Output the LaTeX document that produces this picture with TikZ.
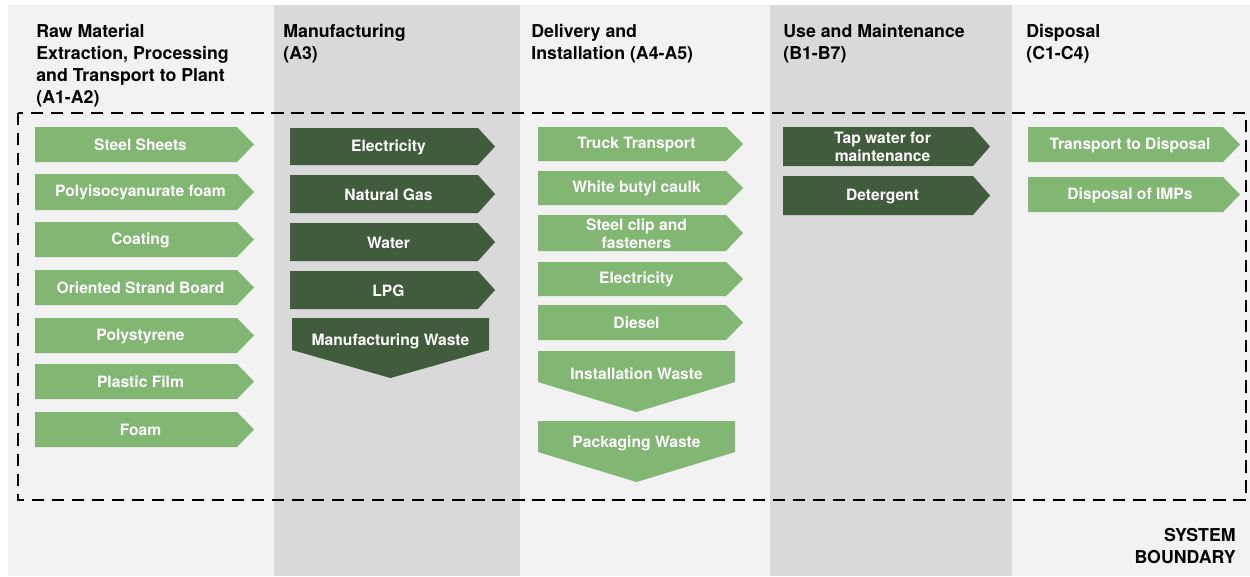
\documentclass[tikz,border=0pt]{standalone}
\usepackage{fontspec}
\setmainfont{TeX Gyre Heros}
\definecolor{lightbg}{HTML}{F2F2F2}
\definecolor{graybg}{HTML}{D9D9D9}
\definecolor{lgreen}{HTML}{82B673}
\definecolor{dgreen}{HTML}{405C3C}
\newcommand\rarr[7]{%
  \fill[#6] (#2,#3) -- ({#4-17},#3) -- (#4,{(#3+#5)/2}) -- ({#4-17},#5) -- (#2,#5) -- cycle;
  \node[lbl] (#1) at ({(#2+#4)/2-4},{(#3+#5)/2+0.5}) {#7};}
\newcommand\darr[8]{%
  \fill[#7] (#2,#3) -- (#4,#3) -- (#4,#5) -- ({(#2+#4)/2},#6) -- (#2,#5) -- cycle;
  \node[lbl] (#1) at ({(#2+#4)/2},{(#3+#5)/2+7}) {#8};}
\begin{document}
\begin{tikzpicture}[x=0.02cm,y=-0.02cm,
  lbl/.style={text=white,font=\bfseries\fontsize{8.9}{10.2}\selectfont,align=center,inner sep=0pt},
  hdr/.style={text=black,font=\bfseries\fontsize{10.1}{12.5}\selectfont,align=left,inner sep=0pt,anchor=north west},
  boundary/.style={line width=1.6pt,dash pattern=on 7pt off 4.4pt}]
\useasboundingbox (0,0) rectangle (1250,576);
\fill[white] (0,0) rectangle (1250,576);
\fill[lightbg] (8,5) rectangle (1250,576);
\fill[graybg] (274,5) rectangle (520,576);
\fill[graybg] (770,5) rectangle (1012,576);
% headers
\node[hdr] (h1) at (36,24) {Raw Material\\Extraction, Processing\\and Transport to Plant\\(A1-A2)};
\node[hdr] (h2) at (283,24) {Manufacturing\\(A3)};
\node[hdr] (h3) at (531,24) {Delivery and\\Installation (A4-A5)};
\node[hdr] (h4) at (783,24) {Use and Maintenance\\(B1-B7)};
\node[hdr] (h5) at (1026,24) {Disposal\\(C1-C4)};
% boundary
\draw[boundary] (18,113) rectangle (1246,500);
\node[text=black,font=\bfseries\fontsize{10.1}{12.5}\selectfont,align=right,inner sep=0pt,anchor=east] (sb) at (1236,546) {SYSTEM\\BOUNDARY};
% column 1
\rarr{a1}{35}{127}{254}{162}{lgreen}{Steel Sheets}
\rarr{a2}{35}{174}{254}{210}{lgreen}{Polyisocyanurate foam}
\rarr{a3}{35}{222}{254}{257}{lgreen}{Coating}
\rarr{a4}{35}{270}{254}{305}{lgreen}{Oriented Strand Board}
\rarr{a5}{35}{318}{254}{353}{lgreen}{Polystyrene}
\rarr{a6}{35}{364}{254}{399}{lgreen}{Plastic Film}
\rarr{a7}{35}{412}{254}{447}{lgreen}{Foam}
% column 2
\rarr{b1}{290}{128}{495}{165}{dgreen}{Electricity}
\rarr{b2}{290}{175}{495}{213}{dgreen}{Natural Gas}
\rarr{b3}{290}{223}{495}{261}{dgreen}{Water}
\rarr{b4}{290}{271}{495}{309}{dgreen}{LPG}
\darr{b5}{292}{318}{489}{350}{378}{dgreen}{Manufacturing Waste}
% column 3
\rarr{c1}{538}{127}{743}{161}{lgreen}{Truck Transport}
\rarr{c2}{538}{171}{743}{205}{lgreen}{White butyl caulk}
\rarr{c3}{538}{215}{743}{251}{lgreen}{Steel clip and\\fasteners}
\rarr{c4}{538}{262}{743}{296}{lgreen}{Electricity}
\rarr{c5}{538}{305}{743}{340}{lgreen}{Diesel}
\darr{c6}{538}{351}{735}{382}{412}{lgreen}{Installation Waste}
\darr{c7}{538}{421}{735}{452}{482}{lgreen}{Packaging Waste}
% column 4
\rarr{d1}{783}{127}{990}{166}{dgreen}{Tap water for\\maintenance}
\rarr{d2}{783}{176}{990}{215}{dgreen}{Detergent}
% column 5
\rarr{e1}{1028}{127}{1240}{162}{lgreen}{Transport to Disposal}
\rarr{e2}{1028}{177}{1240}{212}{lgreen}{Disposal of IMPs}
\end{tikzpicture}
\end{document}
